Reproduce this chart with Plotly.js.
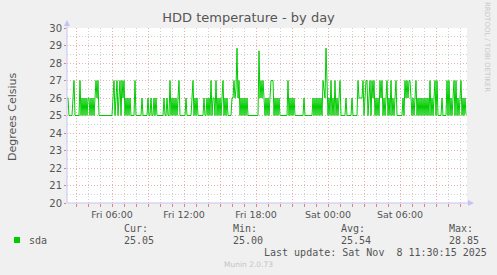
<!DOCTYPE html>
<html>
<head>
<meta charset="utf-8">
<script src="https://cdn.plot.ly/plotly-3.0.1.min.js"></script>
<style>html,body{margin:0;padding:0;background:#f0f0f0;}#chart{width:497px;height:275px;}</style>
</head>
<body>
<div id="chart"></div>
<script>
// ---- data (5-minute samples, sda temperature in °C) ----
const seriesName = "sda";
const startTime = "2025-11-07T02:15:00";   // first sample
const stepMinutes = 5;
const sdaTemp = [
  26,26,25,25,25,25,26,27,25,25,
  25,25,25,27,25,26,25,26,25,26,
  25,26,26,25,26,25,26,25,26,27,
  26,27,25,25,25,25,25,25,25,25,
  25,25,25,25,25,25,26,27,25,26,
  27,25,26,27,25,27,26,27,25,26,
  25,26,25,26,25,25,25,25,27,25,
  25,25,25,25,25,26,25,25,25,25,
  25,26,25,25,26,25,25,26,25,26,
  25,25,25,25,25,25,25,26,25,25,
  26,25,25,27,25,26,25,26,25,26,
  25,26,27,25,25,25,25,25,25,26,
  25,25,25,25,25,26,27,25,26,25,
  26,25,25,25,25,25,25,26,25,25,
  26,25,26,25,27,25,26,26,25,27,
  25,26,25,26,25,26,27,25,26,25,
  26,25,25,25,25,26,26,27,26,26.5,
  28.85,26,27,25,26,25,26,25,26,25,
  26,25,25,25,25,25,25,25,25,25,
  25,25,28.7,26,27,26,27,26,25,26,
  25,26,25,26,27,27,27,25,26,25,
  26,25,26,25,25,25,25,25,25,25,
  25,27,25,26,25,26,25,26,25,25,
  25,25,25,25,25,25,25,26,25,25,
  25,25,25,25,25,25,26,25,26,25,
  26,25,26,25,26,25,27,26.5,26,28.85,
  26,25,26,25,27,25,26,25,27,25,
  26,25,26,27,25,25,25,25,25,26,
  25,25,25,25,25,26,25,25,25,25,
  25,27,26,26,26,26,27,25,26,27,
  27,25,26,27,25,27,26,27,25,26,
  25,26,25,27,26,27,25,26,25,26,
  27,25,26,25,27,25,26,25,26,27,
  25,25,25,25,25,25,26,25,27,26,
  27,26,27,27,26,25,26,25,26,27,
  25,26,25,26,25,26,25,26,25,26,
  25,26,25,27,25,26,25,26,27,25,
  27,25,25,25,25,26,25,25,25,25,
  27,25,27,25,26,25,26,27,25,27,
  25,26,25,26,27,25,26,25,26,25.05
];
const title = "HDD temperature - by day";
const yTitle = "Degrees Celsius";
const statLabels = ["Cur:", "Min:", "Avg:", "Max:"];
const statValues = ["25.05", "25.00", "25.54", "28.85"];
const lastUpdate = "Last update: Sat Nov \u00a08 11:30:15 2025";
const footer = "Munin 2.0.73";
const sideText = "RRDTOOL / TOBI OETIKER";
const dayNames = ["Sun","Mon","Tue","Wed","Thu","Fri","Sat"];

// ---- build time axis ----
const t0 = Date.parse(startTime + "Z");
const stepMs = stepMinutes * 60000;
const xs = sdaTemp.map((_, i) => t0 + i * stepMs);
const tEnd = t0 + sdaTemp.length * stepMs;

const tickVals = [], tickText = [];
let t = Math.ceil(t0 / (3 * 3600000)) * 3 * 3600000;
for (; t <= tEnd; t += 3 * 3600000) {
  const d = new Date(t);
  tickVals.push(t);
  const h = d.getUTCHours();
  tickText.push(h % 6 === 0 ? dayNames[d.getUTCDay()] + " " + String(h).padStart(2, "0") + ":00" : "");
}

// layout geometry
const L = 67, R = 30, T = 28, B = 72, W = 497, H = 275;
const pw = W - L - R, ph = H - T - B;
const px = x => (x - L) / pw;
const py = y => (H - B - y) / ph;

const major = "#eab0b0", minor = "#d0d0d0", axisCol = "#c4c4f4", txt = "#555555";
const mono = "DejaVu Sans Mono, monospace";
const sans = "DejaVu Sans, sans-serif";

const ann = [];
const colX = [122, 231, 339, 447];
statLabels.forEach((s, i) => {
  ann.push({text: s, x: px(colX[i]), y: py(228)});
  ann.push({text: statValues[i], x: px(colX[i]), y: py(240)});
});
ann.push({text: seriesName, x: px(27), y: py(240)});
ann.push({text: lastUpdate, x: px(262), y: py(252)});
const annotations = ann.map(a => Object.assign({xref: "paper", yref: "paper", xanchor: "left", yanchor: "middle",
  showarrow: false, font: {family: mono, size: 10, color: txt}}, a));
annotations.push({text: footer, xref: "paper", yref: "paper", x: px(248), y: py(264), xanchor: "center", yanchor: "middle",
  showarrow: false, font: {family: sans, size: 7.5, color: "#c4c4c4"}});
annotations.push({text: yTitle, xref: "paper", yref: "paper", x: px(12), y: py(116), xanchor: "center", yanchor: "middle",
  textangle: -90, showarrow: false, font: {family: sans, size: 11, color: txt}});
annotations.push({text: sideText, xref: "paper", yref: "paper", x: px(487), y: py(47), xanchor: "center", yanchor: "middle",
  textangle: 90, showarrow: false, font: {family: sans, size: 7, color: "#c8c8c8"}});

const shapes = [
  // legend colour box
  {type: "rect", xref: "paper", yref: "paper", x0: px(14), x1: px(20), y0: py(243), y1: py(237),
   fillcolor: "#00cc00", line: {width: 0}},
  // y axis line + arrow
  {type: "line", xref: "paper", yref: "paper", x0: px(67), x1: px(67), y0: py(203), y1: py(24), line: {color: axisCol, width: 1}},
  {type: "path", xref: "paper", yref: "paper", path: `M ${px(64)} ${py(26)} L ${px(70)} ${py(26)} L ${px(67)} ${py(20)} Z`,
   fillcolor: axisCol, line: {width: 0}},
  // x axis line + arrow
  {type: "line", xref: "paper", yref: "paper", x0: px(67), x1: px(470), y0: py(203), y1: py(203), line: {color: axisCol, width: 1}},
  {type: "path", xref: "paper", yref: "paper", path: `M ${px(468)} ${py(200)} L ${px(468)} ${py(206)} L ${px(474)} ${py(203)} Z`,
   fillcolor: axisCol, line: {width: 0}}
];

const trace = {x: xs, y: sdaTemp, type: "scatter", mode: "lines", line: {color: "#00cc00", width: 1}, hoverinfo: "skip"};

const layout = {
  width: W, height: H,
  margin: {l: L, r: R, t: T, b: B, pad: 0},
  paper_bgcolor: "#f0f0f0", plot_bgcolor: "#ffffff",
  showlegend: false,
  title: {text: title, x: 0.5, xref: "container", xanchor: "center", y: 1 - 17 / H, yref: "container", yanchor: "middle",
          font: {family: sans, size: 13, color: txt}},
  xaxis: {type: "date", range: [t0, tEnd], tickmode: "array", tickvals: tickVals, ticktext: tickText,
          showgrid: true, gridcolor: major, griddash: "1px,2px", gridwidth: 1,
          ticks: "outside", ticklen: 3, tickcolor: "#e08080",
          tickfont: {family: sans, size: 9.5, color: txt},
          minor: {tickmode: "linear", tick0: tickVals[0], dtick: 3600000, showgrid: true, gridcolor: minor, griddash: "1px,2px",
                  ticks: "outside", ticklen: 3, tickcolor: "#e08080"},
          showline: false, zeroline: false, fixedrange: true},
  yaxis: {range: [20, 30], tickmode: "linear", tick0: 20, dtick: 1,
          showgrid: true, gridcolor: major, griddash: "1px,2px", gridwidth: 1,
          ticks: "outside", ticklen: 2, tickcolor: "#e08080",
          tickfont: {family: sans, size: 10, color: txt},
          minor: {tickmode: "linear", tick0: 20, dtick: 0.5, showgrid: true, gridcolor: minor, griddash: "1px,2px"},
          showline: false, zeroline: false, fixedrange: true},
  annotations: annotations,
  shapes: shapes
};

Plotly.newPlot("chart", [trace], layout, {staticPlot: true, displayModeBar: false});
</script>
</body>
</html>
